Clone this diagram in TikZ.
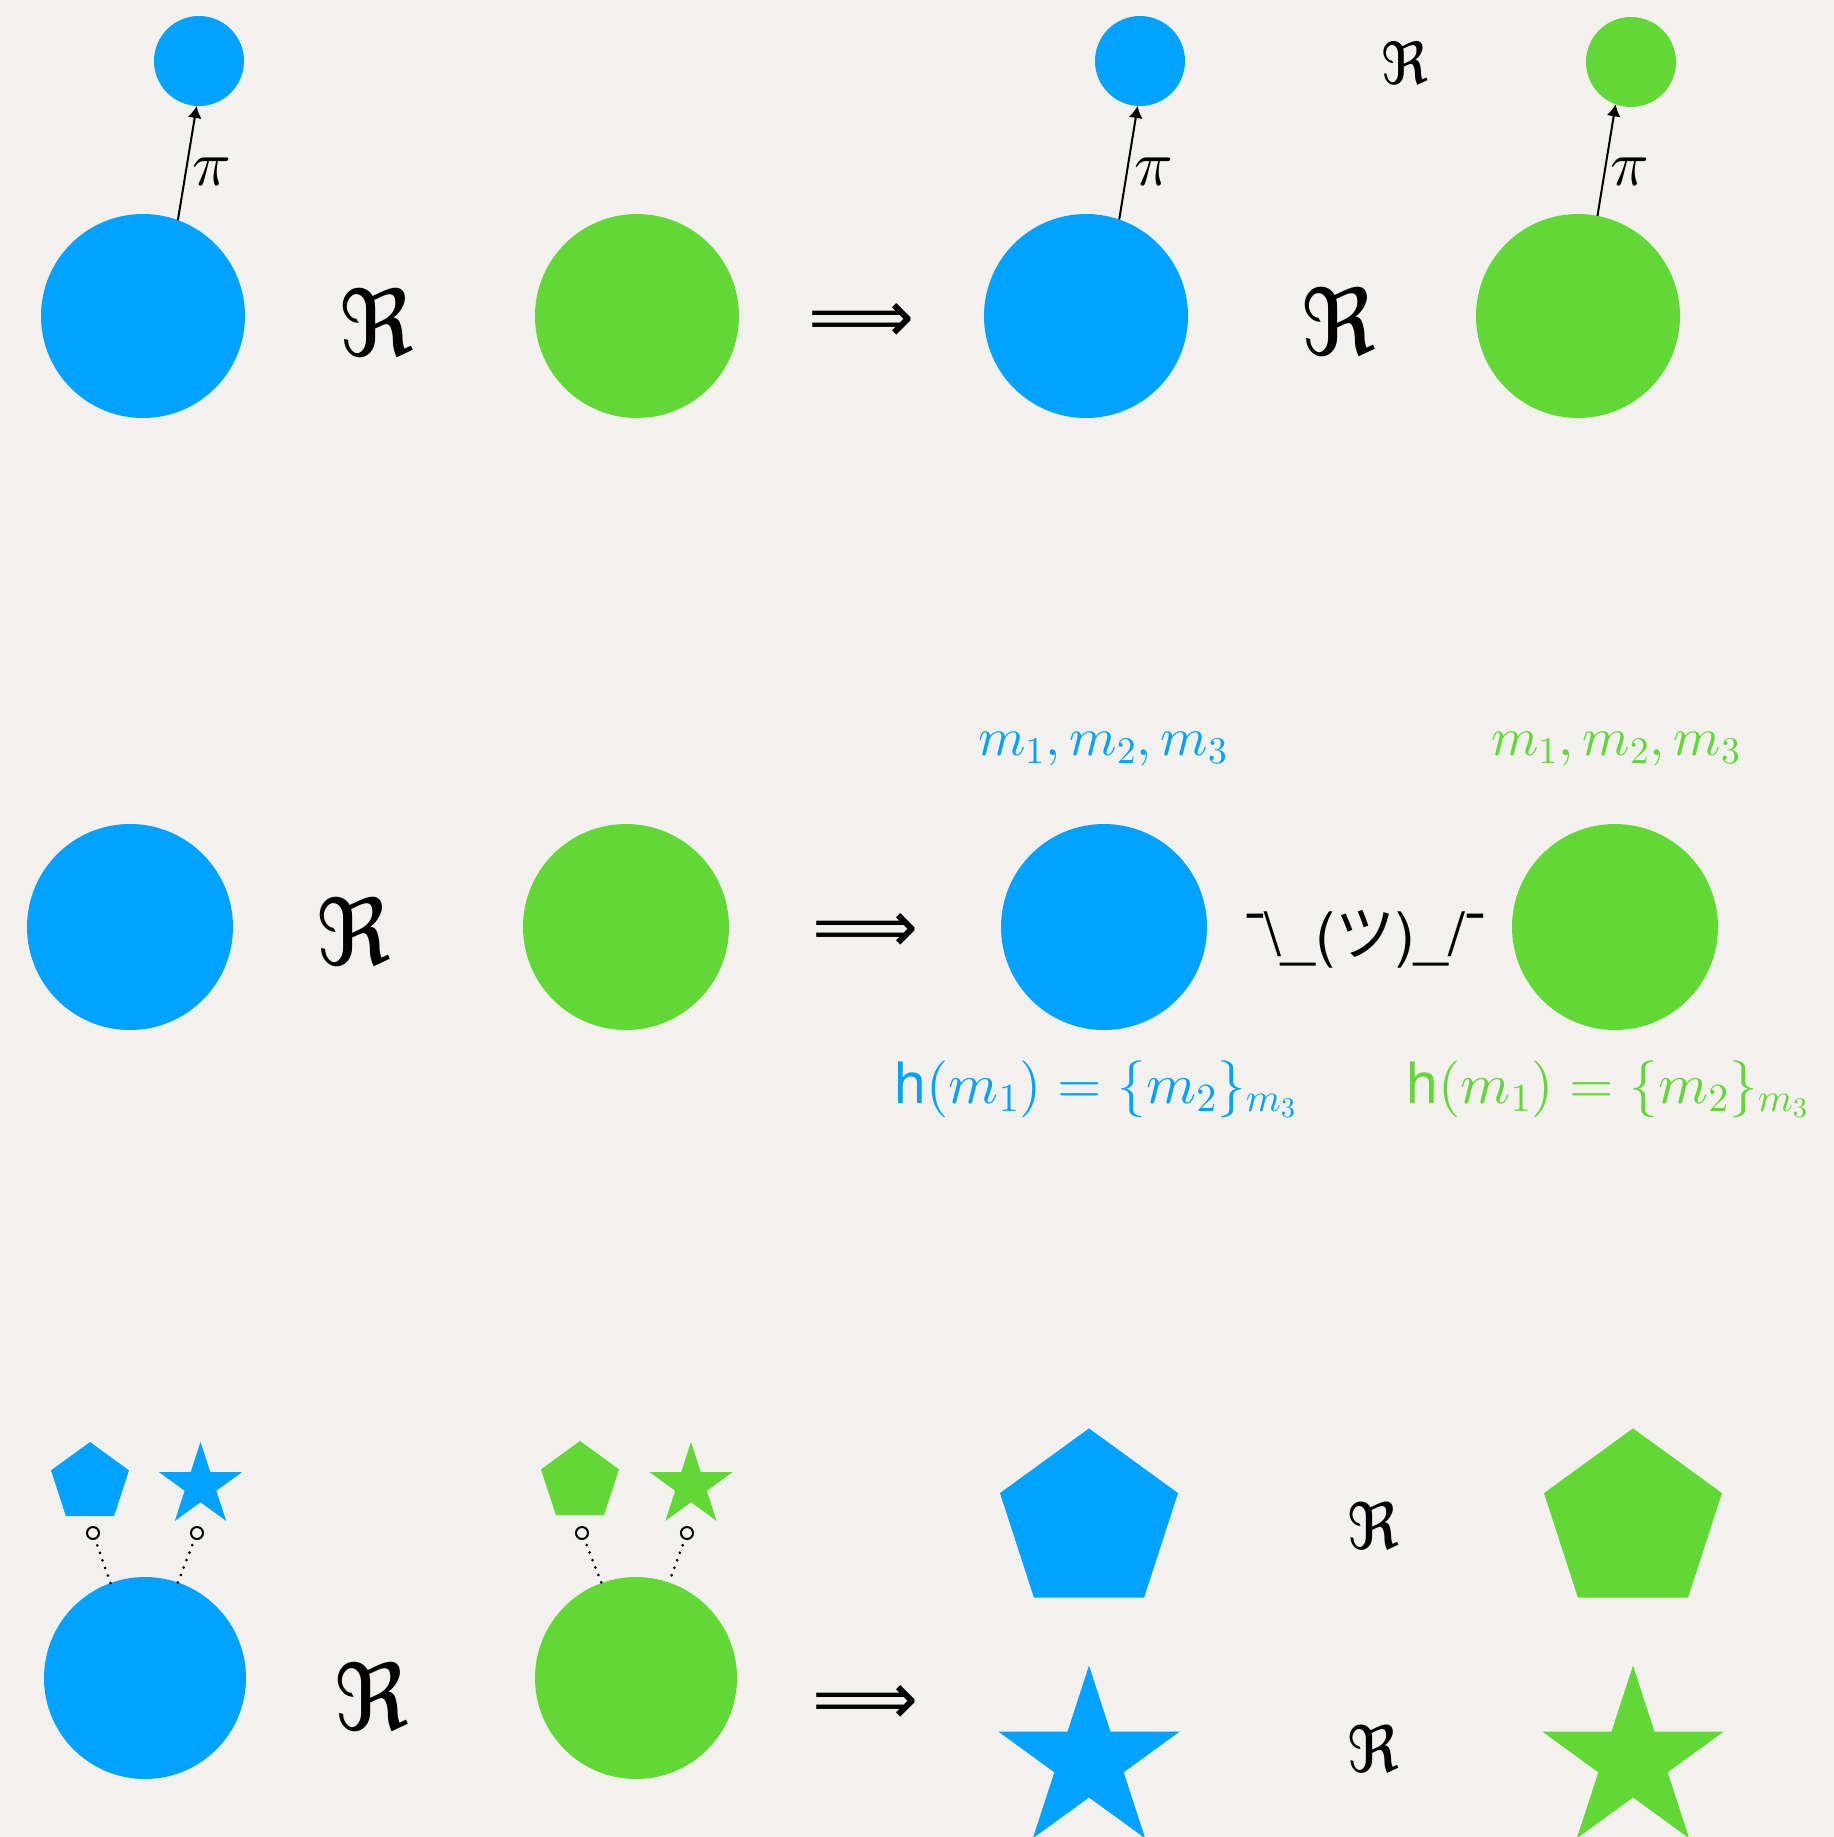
\documentclass[tikz,border=0pt]{standalone}
\usepackage[no-math]{fontspec}
\DeclareFontShape{OML}{cmm}{m}{it}{<->cmmi10}{}
\DeclareFontShape{OMS}{cmsy}{m}{n}{<->cmsy10}{}
\DeclareFontShape{OT1}{cmr}{m}{n}{<->cmr10}{}
\newfontfamily\cjk{Noto Sans CJK JP}
\newfontfamily\hfont{TeX Gyre Heros}
\newfontfamily\frakfont{DejaVu Sans}
\usetikzlibrary{shapes.geometric,arrows.meta}
\definecolor{kblue}{RGB}{0,162,255}
\definecolor{kgreen}{RGB}{97,216,54}
\definecolor{paper}{RGB}{242,241,237}
\newcommand{\frakR}{{\frakfont ℜ}}
\newcommand{\implarrow}{{\frakfont ⟹}}
\begin{document}
\begin{tikzpicture}[x=0.5pt,y=-0.5pt,
 disc/.style={circle,fill=#1,draw=none,inner sep=0pt,outer sep=0pt},
 pent/.style={regular polygon,regular polygon sides=5,fill=#1,draw=none,inner sep=0pt,outer sep=0pt},
 starsh/.style={star,star points=5,star point ratio=2.618,fill=#1,draw=none,inner sep=0pt,outer sep=0pt},
 ring/.style={circle,draw=black,line width=1pt,minimum size=6pt,inner sep=0pt,fill=none},
 arr/.style={-{Latex[length=6pt,width=7pt]},line width=1pt},
 dots/.style={line width=1.5pt,line cap=round,dash pattern=on 0pt off 4pt,shorten <=3pt},
 bigR/.style={font=\fontsize{46}{56}\selectfont,inner sep=0pt},
 smallR/.style={font=\fontsize{29}{35}\selectfont,inner sep=0pt},
 midR/.style={font=\fontsize{32}{38}\selectfont,inner sep=0pt},
 imp/.style={font=\fontsize{37}{44}\selectfont,inner sep=0pt},
 pilab/.style={font=\fontsize{32}{38}\selectfont,inner sep=0pt},
 mlab/.style={font=\fontsize{27}{32}\selectfont,inner sep=0pt,anchor=base,text=#1},
 hlab/.style={font=\fontsize{28.5}{34}\selectfont,inner sep=0pt,anchor=base,text=#1},
]
\fill[paper] (0,0) rectangle (1834,1837);
\useasboundingbox (0,0) rectangle (1834,1837);

% ---------- Row 1 ----------
\node[disc=kblue,minimum size=102pt] (A1) at (143,316) {};
\node[disc=kblue,minimum size=45pt] (a1) at (199,61) {};
\draw[arr] (A1.70) -- (a1.267);
\node[pilab] (p1) at (212,172) {$\pi$};
\node[bigR] (R1) at (377,323) {\frakR};
\node[disc=kgreen,minimum size=102pt] (B1) at (637,316) {};
\node[imp] (I1) at (862,323) {\implarrow};
\node[disc=kblue,minimum size=102pt] (A2) at (1086,316) {};
\node[disc=kblue,minimum size=45pt] (a2) at (1140,61) {};
\draw[arr] (A2.71) -- (a2.267);
\node[pilab] (p2) at (1154,172) {$\pi$};
\node[smallR] (R2) at (1405,63) {\frakR};
\node[bigR] (R3) at (1339,322) {\frakR};
\node[disc=kgreen,minimum size=102pt] (B2) at (1578,316) {};
\node[disc=kgreen,minimum size=45pt] (b2) at (1631,62) {};
\draw[arr] (B2.79) -- (b2.250);
\node[pilab] (p3) at (1630,172) {$\pi$};

% ---------- Row 2 ----------
\node[disc=kblue,minimum size=103pt] (C1) at (130,927) {};
\node[bigR] (R4) at (354,932) {\frakR};
\node[disc=kgreen,minimum size=103pt] (D1) at (626,927) {};
\node[imp] (I2) at (866,933) {\implarrow};
\node[disc=kblue,minimum size=103pt] (C2) at (1104,927) {};
\node[font=\hfont\fontsize{30}{36}\selectfont,inner sep=0pt] (sh) at (1365,939) {¯\textbackslash\_({\cjk ツ})\_/¯};
\node[disc=kgreen,minimum size=103pt] (D2) at (1615,927) {};
\node[mlab=kblue] (m1) at (1103,755) {$m_1, m_2, m_3$};
\node[mlab=kgreen] (m2) at (1616,755) {$m_1, m_2, m_3$};
\node[hlab=kblue] (h1) at (1096,1103) {{\hfont h}$(m_1) = \{m_2\}_{m_3}$};
\node[hlab=kgreen] (h2) at (1608,1103) {{\hfont h}$(m_1) = \{m_2\}_{m_3}$};

% ---------- Row 3 ----------
\node[disc=kblue,minimum size=101pt] (E1) at (145,1678) {};
\node[pent=kblue,minimum size=41pt] (e1) at (90,1483) {};
\node[starsh=kblue,minimum size=43.6pt] (e2) at (200.5,1485.6) {};
\node[ring] (r1) at (93,1533) {};
\node[ring] (r2) at (197,1533) {};
\draw[dots] (r1) -- (E1.110);
\draw[dots] (r2) -- (E1.71);
\node[bigR] (R5) at (372,1697) {\frakR};
\node[disc=kgreen,minimum size=101pt] (F1) at (636,1678) {};
\node[pent=kgreen,minimum size=41pt] (f1) at (580,1482) {};
\node[starsh=kgreen,minimum size=43.6pt] (f2) at (691,1485.6) {};
\node[ring] (r3) at (582,1533) {};
\node[ring] (r4) at (687,1533) {};
\draw[dots] (r3) -- (F1.110);
\draw[dots] (r4) -- (F1.71);
\node[imp] (I3) at (866,1705) {\implarrow};
\node[pent=kblue,minimum size=93.6pt] (P1) at (1089,1522) {};
\node[midR] (R6) at (1374,1526) {\frakR};
\node[pent=kgreen,minimum size=93.6pt] (P2) at (1633,1522) {};
\node[starsh=kblue,minimum size=95.5pt] (S1) at (1089,1761) {};
\node[midR] (R7) at (1374,1749) {\frakR};
\node[starsh=kgreen,minimum size=95.5pt] (S2) at (1633,1761) {};
\end{tikzpicture}
\end{document}
